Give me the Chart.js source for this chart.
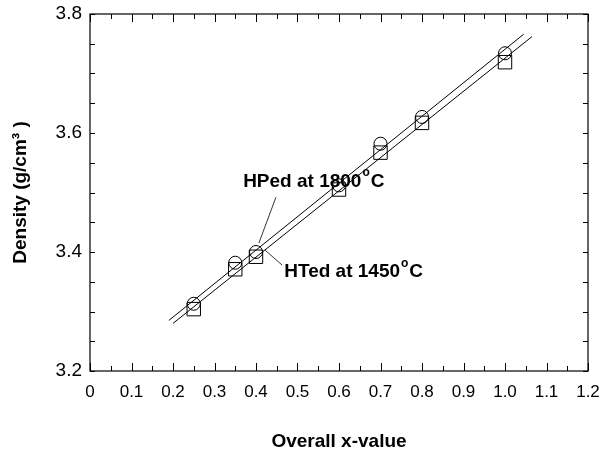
<!DOCTYPE html>
<html>
<head>
<meta charset="utf-8">
<script src="https://cdn.jsdelivr.net/npm/chart.js@4.4.0/dist/chart.umd.min.js"></script>
<style>
  html, body { margin: 0; padding: 0; background: #fff; }
  #wrap { width: 603px; height: 457px; }
</style>
</head>
<body>
<div id="wrap"><canvas id="chart"></canvas></div>
<script>
const xValues = [0.25, 0.35, 0.4, 0.6, 0.7, 0.8, 1.0];
const hpDensity = [3.313, 3.382, 3.400, 3.512, 3.582, 3.627, 3.734];
const htDensity = [3.304, 3.371, 3.392, 3.505, 3.567, 3.617, 3.719];

// fitted lines, end points
const hpFitX = [0.19, 1.045];
const hpFitY = [3.285, 3.766];
const htFitX = [0.2, 1.065];
const htFitY = [3.280, 3.762];

const xTickLabels = ['0', '0.1', '0.2', '0.3', '0.4', '0.5', '0.6', '0.7', '0.8', '0.9', '1.0', '1.1', '1.2'];
const yTickLabels = ['3.2', '3.4', '3.6', '3.8'];

// callouts: text anchor and leader line, in data units
const callouts = [
  { text: 'HPed at 1800', unit: 'C', x: 0.369, y: 3.518, from: [0.448, 3.492], to: [0.407, 3.415] },
  { text: 'HTed at 1450', unit: 'C', x: 0.468, y: 3.366, from: [0.422, 3.403], to: [0.463, 3.378] }
];

const toPoints = (xs, ys) => xs.map((x, i) => ({ x: x, y: ys[i] }));
const isStep = (v, step) => Math.abs(v / step - Math.round(v / step)) < 1e-6;

Chart.defaults.font.family = '"Liberation Sans", Arial, sans-serif';
Chart.defaults.color = '#000';

// let layout.padding alone decide where the plot box sits
const noScalePadding = s => {
  s.paddingTop = 0; s.paddingBottom = 0; s.paddingLeft = 0; s.paddingRight = 0;
};

const frameTicks = {
  id: 'frameTicks',
  afterDatasetsDraw(chart) {
    const { ctx, chartArea: a, scales: { x, y } } = chart;
    ctx.save();
    ctx.strokeStyle = '#000';
    ctx.lineWidth = 1.2;
    ctx.strokeRect(a.left, a.top, a.width, a.height);
    ctx.lineWidth = 1;
    ctx.beginPath();
    x.ticks.forEach(t => {
      const px = Math.round(x.getPixelForValue(t.value)) + 0.5;
      const len = isStep(t.value, 0.1) ? 8 : 5;
      ctx.moveTo(px, a.bottom); ctx.lineTo(px, a.bottom - len);
      ctx.moveTo(px, a.top); ctx.lineTo(px, a.top + len);
    });
    y.ticks.forEach(t => {
      const py = Math.round(y.getPixelForValue(t.value)) + 0.5;
      ctx.moveTo(a.left, py); ctx.lineTo(a.left + 5, py);
      ctx.moveTo(a.right, py); ctx.lineTo(a.right - 5, py);
    });
    ctx.stroke();
    ctx.restore();
  }
};

const calloutText = {
  id: 'calloutText',
  afterDraw(chart) {
    const { ctx, scales: { x, y } } = chart;
    ctx.save();
    ctx.fillStyle = '#000';
    ctx.strokeStyle = '#000';
    ctx.lineWidth = 0.8;
    callouts.forEach(c => {
      ctx.beginPath();
      ctx.moveTo(x.getPixelForValue(c.from[0]), y.getPixelForValue(c.from[1]));
      ctx.lineTo(x.getPixelForValue(c.to[0]), y.getPixelForValue(c.to[1]));
      ctx.stroke();

      let px = x.getPixelForValue(c.x);
      const py = y.getPixelForValue(c.y);
      ctx.textBaseline = 'middle';
      ctx.font = 'bold 19px "Liberation Sans", Arial, sans-serif';
      ctx.fillText(c.text, px, py);
      px += ctx.measureText(c.text).width + 1;
      ctx.font = 'bold 12px "Liberation Sans", Arial, sans-serif';
      ctx.fillText('o', px, py - 9);
      px += ctx.measureText('o').width + 1;
      ctx.font = 'bold 19px "Liberation Sans", Arial, sans-serif';
      ctx.fillText(c.unit, px, py);
    });
    ctx.restore();
  }
};

new Chart(document.getElementById('chart'), {
  type: 'scatter',
  data: {
    datasets: [
      {
        label: 'HPed at 1800°C',
        data: toPoints(xValues, hpDensity),
        pointStyle: 'circle',
        pointRadius: 6.5,
        borderColor: '#000',
        backgroundColor: 'rgba(0,0,0,0)',
        borderWidth: 1
      },
      {
        label: 'HTed at 1450°C',
        data: toPoints(xValues, htDensity),
        pointStyle: 'rect',
        pointRadius: 9.5,
        borderColor: '#000',
        backgroundColor: 'rgba(0,0,0,0)',
        borderWidth: 1
      },
      {
        label: 'HP fit',
        data: toPoints(hpFitX, hpFitY),
        showLine: true,
        pointRadius: 0,
        borderColor: '#000',
        borderWidth: 1
      },
      {
        label: 'HT fit',
        data: toPoints(htFitX, htFitY),
        showLine: true,
        pointRadius: 0,
        borderColor: '#000',
        borderWidth: 1
      }
    ]
  },
  options: {
    responsive: true,
    maintainAspectRatio: false,
    animation: false,
    layout: { padding: { top: 14, right: 15, left: 0, bottom: 0 } },
    plugins: {
      legend: { display: false },
      tooltip: { enabled: false }
    },
    scales: {
      x: {
        type: 'linear',
        min: 0,
        max: 1.2,
        border: { display: false },
        grid: { display: false, drawTicks: false },
        afterFit: s => { s.height = 86; noScalePadding(s); },
        ticks: {
          stepSize: 0.05,
          autoSkip: false,
          maxRotation: 0,
          padding: 11,
          font: { size: 17 },
          callback: v => isStep(v, 0.1) ? xTickLabels[Math.round(v * 10)] : ''
        },
        title: {
          display: true,
          text: 'Overall x-value',
          font: { size: 19, weight: 'bold' },
          padding: { top: 0, bottom: 4 }
        }
      },
      y: {
        type: 'linear',
        min: 3.2,
        max: 3.8,
        border: { display: false },
        grid: { display: false, drawTicks: false },
        afterFit: s => { s.width = 90; noScalePadding(s); },
        ticks: {
          stepSize: 0.05,
          autoSkip: false,
          padding: 8,
          font: { size: 19 },
          callback: v => isStep(v - 3.2, 0.2) ? yTickLabels[Math.round((v - 3.2) / 0.2)] : ''
        },
        title: {
          display: true,
          text: 'Density (g/cm³ )',
          font: { size: 19, weight: 'bold' },
          padding: { top: 9, bottom: 0 }
        }
      }
    }
  },
  plugins: [frameTicks, calloutText]
});
</script>
</body>
</html>
